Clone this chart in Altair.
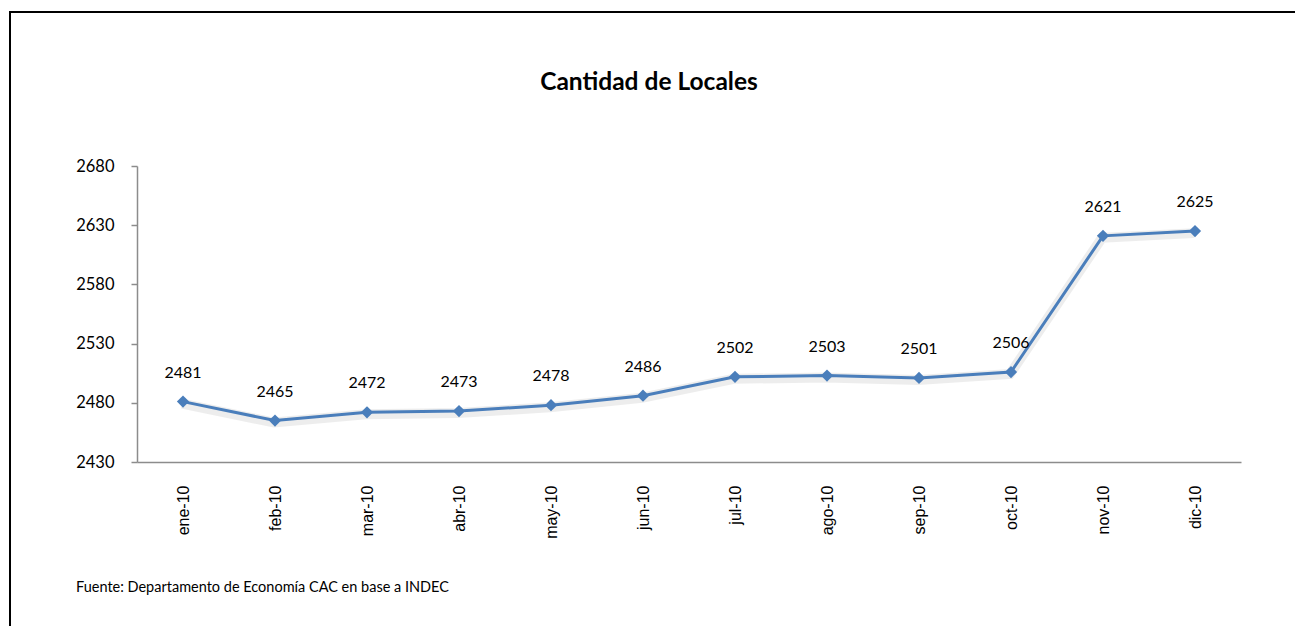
import altair as alt
import pandas as pd

months = ["ene-10", "feb-10", "mar-10", "abr-10", "may-10", "jun-10",
          "jul-10", "ago-10", "sep-10", "oct-10", "nov-10", "dic-10"]
values = [2481, 2465, 2472, 2473, 2478, 2486, 2502, 2503, 2501, 2506, 2621, 2625]
y_ticks = [2430, 2480, 2530, 2580, 2630, 2680]
title_text = "Cantidad de Locales"
source_text = "Fuente: Departamento de Economía CAC en base a INDEC"

df = pd.DataFrame({"mes": months, "locales": values})
one = pd.DataFrame({"k": [0]})

BLUE = "#4a7ebb"

x_enc = alt.X("mes:N", sort=months, title=None,
              scale=alt.Scale(type="point", padding=0.5),
              axis=alt.Axis(labelAngle=-90, ticks=False, domainColor="#8c8c8c",
                            domainWidth=1.5, labelFont="Liberation Sans",
                            labelFontSize=16, labelColor="#000000",
                            labelPadding=23, labelBaseline="middle",
                            labelAlign="right"))
y_enc = alt.Y("locales:Q", title=None,
              scale=alt.Scale(domain=[2430, 2680], nice=False, zero=False),
              axis=alt.Axis(values=y_ticks, grid=False, tickSize=6, format="d",
                            tickColor="#8c8c8c", domainColor="#8c8c8c",
                            domainWidth=1.5, tickWidth=1.5,
                            labelFont="Lato", labelFontSize=16.5,
                            labelColor="#000000", labelPadding=17))

base = alt.Chart(df)

shadow = base.mark_line(color="#000000", opacity=0.07, strokeWidth=10,
                        xOffset=-1, yOffset=2).encode(x=x_enc, y=y_enc)
line = base.mark_line(color=BLUE, strokeWidth=3).encode(x=x_enc, y=y_enc)
pts = base.mark_point(shape="diamond", filled=True, size=150, color=BLUE,
                      opacity=1).encode(x=x_enc, y=y_enc)
labels = base.mark_text(dy=-29, font="Lato", fontSize=16, color="#000000").encode(
    x=x_enc, y=y_enc, text=alt.Text("locales:Q", format="d"))

frame = alt.Chart(one).mark_rect(fill=None, stroke="#000000", strokeWidth=2).encode(
    x=alt.value(-127), x2=alt.value(1161), y=alt.value(-154), y2=alt.value(520))
title = alt.Chart(one).mark_text(text=title_text, font="Lato", fontWeight="bold",
                                 fontSize=24.5, color="#000000", align="center",
                                 baseline="middle").encode(
    x=alt.value(512), y=alt.value(-83))
source = alt.Chart(one).mark_text(text=source_text, font="Lato", fontSize=14.5,
                                  color="#000000", align="left",
                                  baseline="middle").encode(
    x=alt.value(-61), y=alt.value(422))

chart = alt.layer(frame, title, source, shadow, line, pts, labels).properties(
    width=1104, height=296,
    background="#ffffff",
    autosize=alt.AutoSizeParams(type="none"),
    padding={"left": 129, "top": 158, "right": 54, "bottom": 164},
).configure_view(strokeWidth=0, stroke=None)

chart.save("out.html", embed_options={"renderer": "svg", "actions": False})
